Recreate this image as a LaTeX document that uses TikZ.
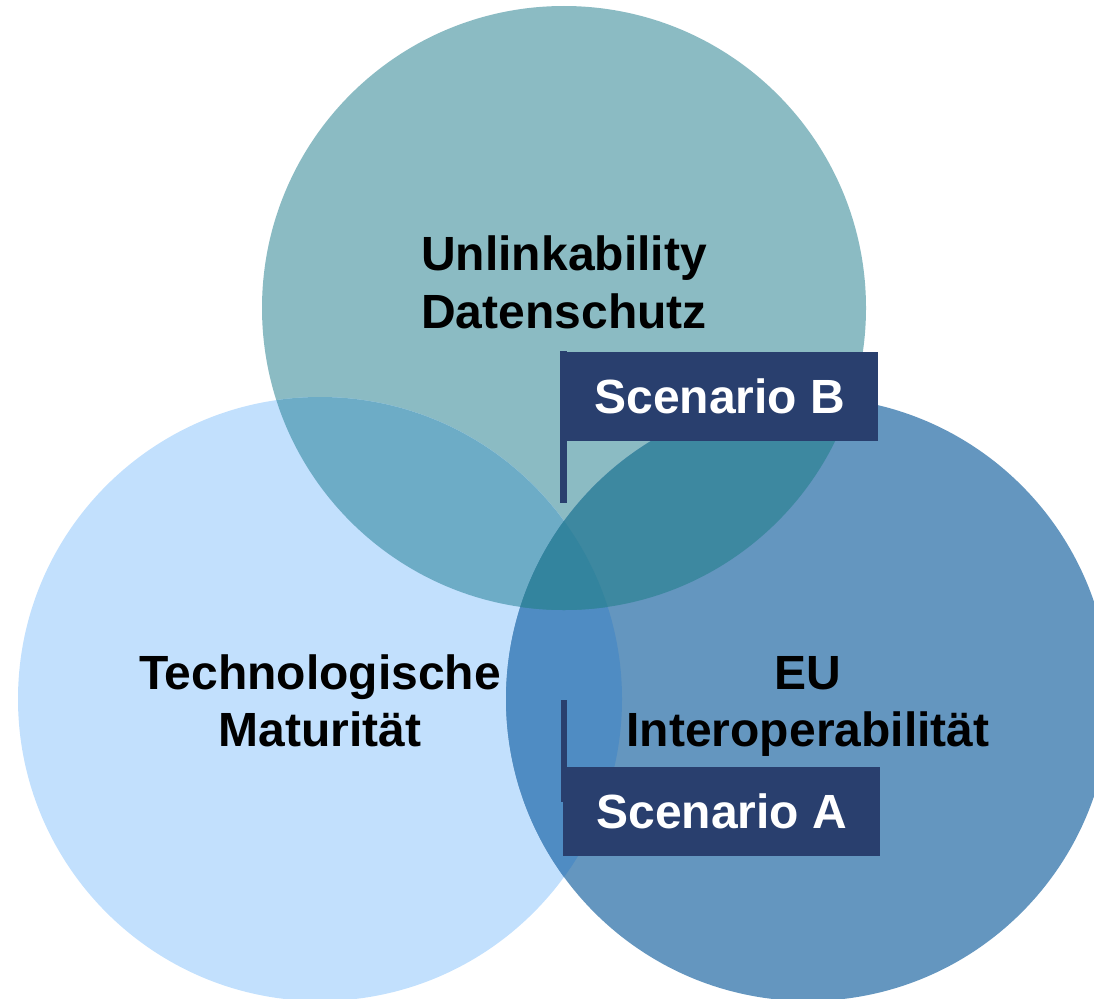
\documentclass[tikz,border=0pt]{standalone}
\usepackage{fontspec}
\setmainfont{Liberation Sans}
\definecolor{cT}{HTML}{8BBBC3}
\definecolor{cL}{HTML}{C2E0FD}
\definecolor{cR}{HTML}{6496BF}
\definecolor{cTL}{HTML}{6DACC6}
\definecolor{cTR}{HTML}{3D88A0}
\definecolor{cLR}{HTML}{4F8CC3}
\definecolor{cTLR}{HTML}{33849E}
\definecolor{navy}{HTML}{293F6E}
\begin{document}
\begin{tikzpicture}[x=1pt,y=-1pt,
  lbl/.style={font=\fontsize{48}{58}\selectfont\bfseries, text=black, anchor=base, inner sep=0pt},
  flagbox/.style={fill=navy, text=white, font=\fontsize{48}{58}\selectfont\bfseries, minimum width=317pt, minimum height=89pt, inner sep=0pt, anchor=north west},
  pole/.style={draw=navy, line width=6.5pt}]
\useasboundingbox (0,0) rectangle (1094,998);
\clip (0,0) rectangle (1094,998);
\def\rad{302}
\coordinate (T) at (564,308);
\coordinate (L) at (320,699);
\coordinate (R) at (808,699);
% base circles
\fill[cT] (T) circle (\rad);
\fill[cL] (L) circle (\rad);
\fill[cR] (R) circle (\rad);
% overlaps
\begin{scope}\clip (T) circle (\rad); \fill[cTL] (L) circle (\rad);\end{scope}
\begin{scope}\clip (L) circle (\rad); \fill[cLR] (R) circle (\rad);\end{scope}
\begin{scope}\clip (T) circle (\rad); \fill[cTR] (R) circle (\rad);\end{scope}
\begin{scope}\clip (T) circle (\rad); \clip (L) circle (\rad); \fill[cTLR] (R) circle (\rad);\end{scope}
% labels
\node[lbl] (t1) at (564,270) {Unlinkability};
\node[lbl] (t2) at (564,328) {Datenschutz};
\node[lbl] (l1) at (320,689) {Technologische};
\node[lbl] (l2) at (320,746) {Maturität};
\node[lbl] (r1) at (808,689) {EU};
\node[lbl] (r2) at (808,746) {Interoperabilität};
% Scenario B flag
\coordinate (pBtop) at (563.7,351);
\coordinate (pBbot) at (563.7,503);
\draw[pole] (pBtop) -- (pBbot);
\node[flagbox] (boxB) at (561,352) {Scenario B};
% Scenario A flag
\coordinate (pAtop) at (564,700);
\coordinate (pAbot) at (564,802);
\draw[pole] (pAtop) -- (pAbot);
\node[flagbox] (boxA) at (563,766.5) {Scenario A};
\end{tikzpicture}
\end{document}
